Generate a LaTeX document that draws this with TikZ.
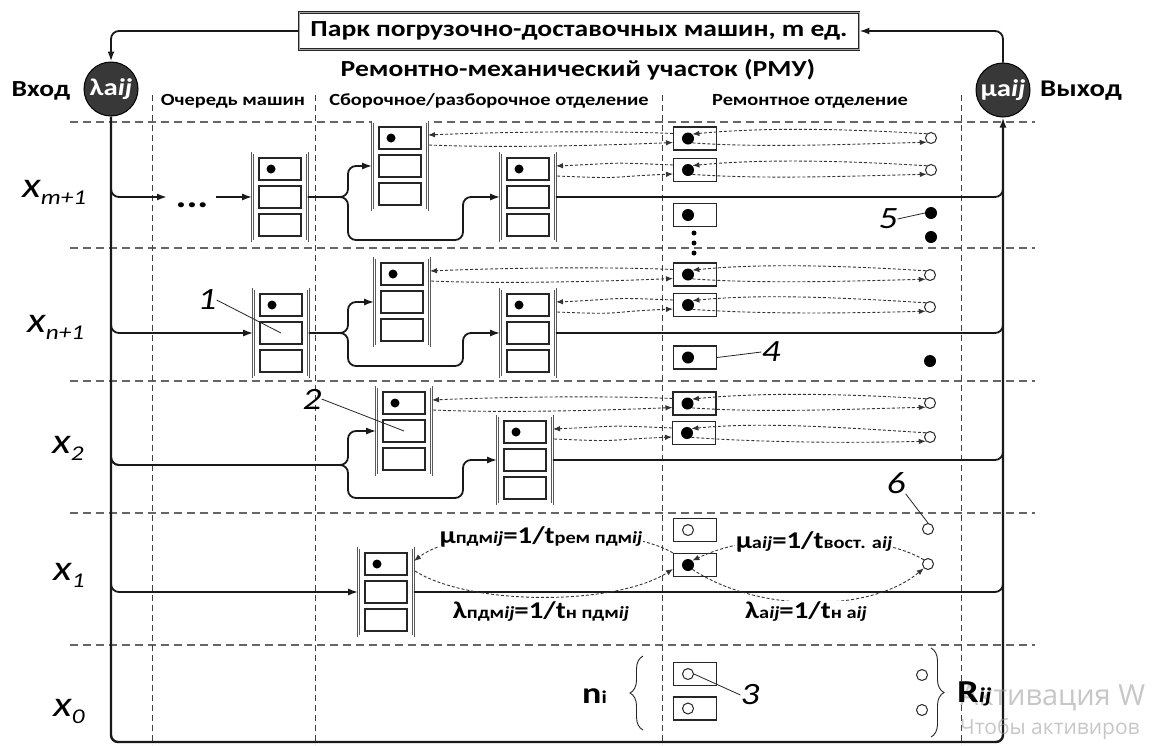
\documentclass[tikz,border=0pt]{standalone}
\usepackage{fontspec}
\setmainfont{Carlito}[FakeStretch=1.2]
\newfontfamily\wmfont{Open Sans}
\usetikzlibrary{arrows.meta,calc,decorations.pathreplacing}
\newcommand{\fs}[1]{\fontsize{#1}{#1}\selectfont}
\newcommand{\sbt}[1]{{\fs{17}#1}}
\newcommand{\machine}[3]{%
  \node[outerbox] (#1) at (#2,#3) {};
  \node[cell] (#1a) at (#2,{#3-28}) {};
  \node[cell] (#1b) at (#2,#3) {};
  \node[cell] (#1c) at (#2,{#3+28}) {};
  \node[mdot] (#1d) at ({#2-9},{#3-28}) {};
  \coordinate (#1u) at ({#2+28},{#3-31});
  \coordinate (#1l) at ({#2+29},{#3-21});
}
\newcommand{\rep}[4]{%
  \node[rbox] (#1) at (#2,#3) {};
  \node[#4] (#1d) at ({#2-7},#3) {};
  \coordinate (#1u) at ({#2-22},{#3-5});
  \coordinate (#1l) at ({#2-22},{#3+4});
}
\begin{document}
\begin{tikzpicture}[x=1pt,y=-1pt,
  hgrid/.style={draw=black!60, line width=1.3pt, dash pattern=on 8pt off 5pt},
  vgrid/.style={draw=black!75, line width=1pt, dash pattern=on 6pt off 4pt},
  frame/.style={draw=black!90, line width=2.4pt, rounded corners=7pt},
  flow/.style={draw=black!90, line width=1.8pt, rounded corners=8pt},
  arr/.style={-{Latex[length=10pt,width=7pt]}},
  dl/.style={draw=black!80, line width=0.9pt, dash pattern=on 3pt off 2pt},
  darr/.style={-{Latex[length=7pt,width=5.5pt]}},
  outerbox/.style={draw=black!65, line width=0.6pt, double=white, double distance=1.3pt, minimum width=55pt, minimum height=88pt, inner sep=0pt},
  cell/.style={draw=black!85, line width=1.3pt, minimum width=42pt, minimum height=22pt, inner sep=0pt},
  rbox/.style={draw=black!85, line width=1.3pt, minimum width=43pt, minimum height=23pt, inner sep=0pt},
  mdot/.style={circle, fill=black, minimum size=9pt, inner sep=0pt},
  rdot/.style={circle, fill=black, minimum size=12pt, inner sep=0pt},
  rcirc/.style={circle, draw=black!85, line width=1pt, fill=white, minimum size=11pt, inner sep=0pt},
  ocirc/.style={circle, draw=black!85, line width=1pt, fill=white, minimum size=11pt, inner sep=0pt},
  fdot/.style={circle, fill=black, minimum size=12pt, inner sep=0pt},
  gcirc/.style={circle, fill=black!78, draw=black, line width=1pt, minimum size=54pt, inner sep=0pt, text=white, font=\bfseries\fs{24}},
  titlebox/.style={draw=black!85, line width=0.8pt, double=black!35, double distance=0.8pt, minimum width=560pt, minimum height=37pt, inner sep=0pt, fill=white, font=\bfseries\fs{23}},
  hdr/.style={font=\bfseries\fs{17}, inner sep=1pt},
  big/.style={font=\bfseries\fs{23}, inner sep=1pt},
  xlab/.style={anchor=base west, font=\itshape\fs{36}, inner sep=0pt},
  num/.style={font=\itshape\fs{31}, inner sep=0pt},
  rate/.style={font=\bfseries\fs{24}, fill=white, inner sep=1pt},
  pointer/.style={draw=black!85, line width=0.8pt},
  brc/.style={draw=black!85, line width=0.9pt, decorate, decoration={brace, amplitude=13pt, aspect=0.5}},
  wm/.style={text=black!40, text opacity=0.55, anchor=west, inner sep=0pt}
]
\fill[white] (0,0) rectangle (1154,745);
\useasboundingbox (0,0) rectangle (1154,745);

% grid
\foreach \yy in {122,248,381,513,645} \draw[hgrid] (70,\yy) -- (1035,\yy);
\foreach \xx in {152,315,662,961} \draw[vgrid] (\xx,95) -- (\xx,745);

% titles
\node[titlebox] (park) at (579,31) {Парк погрузочно-доставочных машин, m ед.};
\node[big] (rmu) at (578,70) {Ремонтно-механический участок (РМУ)};
\node[hdr] (h1) at (233,101) {Очередь машин};
\node[hdr] (h2) at (489,101) {Сборочное/разборочное отделение};
\node[hdr] (h3) at (810,101) {Ремонтное отделение};
\node[big] (vin) at (41,91) {Вход};
\node[big, font=\bfseries\fs{24}] (vout) at (1081,91) {Выход};

\node[gcirc] (lam) at (111,89) {λa\textit{ij}};
\node[gcirc] (mu) at (1003,90) {μa\textit{ij}};

% frame
\coordinate (BL) at (111,742);
\coordinate (BR) at (1003,742);
\draw[frame, arr] (lam.south) -- (BL) -- (BR) -- (mu.south);
\draw[flow, arr] (park.west) -| (lam.north);
\draw[flow, arr] (mu.north) |- (park.east);

% row labels
\node[xlab] (xm) at (22,197) {x\raisebox{-7pt}{\fs{21}m+1}};
\node[xlab] (xn) at (27,332) {x\raisebox{-7pt}{\fs{21}n+1}};
\node[xlab] (x2) at (52,453) {x\raisebox{-7pt}{\fs{21}2}};
\node[xlab] (x1) at (53,580) {x\raisebox{-7pt}{\fs{21}1}};
\node[xlab] (x0) at (53,716) {x\raisebox{-7pt}{\fs{21}0}};

% ---------- row m+1
\machine{Q1}{280}{197}
\machine{A1}{400}{166}
\machine{B1}{528}{197}
\node[font=\bfseries\fs{34}, anchor=base, inner sep=0pt] (dots) at (192,207) {...};
\coordinate (L1) at (111,182);
\coordinate (D1a) at (167,197);
\coordinate (D1b) at (216,197);
\coordinate (S1) at (348,197);
\coordinate (K1) at (463,240);
\coordinate (E1) at (1003,182);
\draw[flow, arr] (L1) |- (D1a);
\draw[flow, arr] (D1b) -- (Q1.west);
\draw[flow, arr] (Q1.east) -- (S1) |- (A1.west);
\draw[flow, arr] (Q1.east) -- (S1) |- (K1) |- (B1.west);
\draw[flow] (B1.east) -| (E1);
\rep{Rm1}{695}{138.5}{rdot}
\rep{Rm2}{695}{170}{rdot}
\rep{Rm3}{695}{215}{rdot}
\foreach \yy in {233,243,253} \fill (694,\yy) circle (2.5pt);
\node[ocirc] (Cm1) at (931,138) {};
\node[ocirc] (Cm2) at (931,170) {};
\node[fdot] (Dm1) at (931,213) {};
\node[fdot] (Dm2) at (931,237) {};
\node[num] (n5) at (888,219) {5};
\draw[pointer] (n5.east) -- (Dm1.west);

% ---------- row n+1
\machine{Q2}{281}{333}
\machine{A2}{402}{302}
\machine{B2}{528}{333}
\coordinate (L2) at (111,318);
\coordinate (S2) at (348,333);
\coordinate (K2) at (463,366);
\coordinate (E2) at (1003,318);
\draw[flow, arr] (L2) |- (Q2.west);
\draw[flow, arr] (Q2.east) -- (S2) |- (A2.west);
\draw[flow, arr] (Q2.east) -- (S2) |- (K2) |- (B2.west);
\draw[flow] (B2.east) -| (E2);
\rep{Rn1}{695}{274.5}{rdot}
\rep{Rn2}{695}{305}{rdot}
\rep{Rn3}{695}{357.5}{rdot}
\node[ocirc] (Cn1) at (930,275) {};
\node[ocirc] (Cn2) at (930,307) {};
\node[fdot] (Dn) at (930,361) {};
\node[num] (n1) at (207,300) {1};
\draw[pointer] (n1.east) -- (Q2b.center);
\node[num] (n4) at (771,352) {4};
\draw[pointer] (n4.west) -- (Rn3.east);

% ---------- row 2
\machine{A3}{404}{431}
\machine{B3}{525}{460}
\coordinate (L3) at (111,450);
\coordinate (S3) at (348,465);
\coordinate (K3) at (463,498);
\coordinate (E3) at (1003,446);
\draw[flow, arr] (L3) |- (S3) |- (A3.west);
\draw[flow, arr] (L3) |- (S3) |- (K3) |- (B3.west);
\draw[flow] (B3.east) -| (E3);
\rep{Rt1}{694.5}{403.5}{rdot}
\rep{Rt2}{694}{433}{rdot}
\node[ocirc] (Ct1) at (930,403) {};
\node[ocirc] (Ct2) at (930,437) {};
\node[num] (n2) at (312,399) {2};
\draw[pointer] (n2.east) -- (A3b.center);

% ---------- row 1
\machine{A4}{386}{592}
\coordinate (L4) at (111,578);
\coordinate (E4) at (1003,578);
\draw[flow, arr] (L4) |- (A4.west);
\draw[flow] (A4.east) -| (E4);
\rep{Rx1}{695}{530}{rcirc}
\rep{Rx2}{695}{565}{rdot}
\node[ocirc] (Cx1) at (928,529) {};
\node[ocirc] (Cx2) at (928,564) {};
\node[num] (n6) at (896,483) {6};
\draw[pointer] (n6.south east) -- (Cx1.north);

% ---------- row 0
\rep{Rz1}{695}{674}{rcirc}
\rep{Rz2}{695}{708.5}{rcirc}
\node[ocirc] (Cz1) at (922,675) {};
\node[ocirc] (Cz2) at (922,710) {};
\node[num] (n3) at (750,695) {3};
\draw[pointer] (Rz1d.east) -- (n3.west);
\node[anchor=base west, font=\bfseries\fs{30}, inner sep=0pt] (ni) at (582,703) {n{\fs{18}i}};
\coordinate (BA) at (643,730);
\coordinate (BB) at (643,656);
\coordinate (BC) at (931,648);
\coordinate (BD) at (931,737);
\draw[brc] (BA) -- (BB);
\draw[brc] (BC) -- (BD);

% ---------- dotted flows rows m+1, n+1, 2
\foreach \M/\R/\C in {A1/Rm1/Cm1, B1/Rm2/Cm2, A2/Rn1/Cn1, B2/Rn2/Cn2, A3/Rt1/Ct1, B3/Rt2/Ct2}{
  \draw[dl, darr] (\R u) .. controls +(-70,-3) and +(70,-3) .. (\M u);
  \draw[dl, darr] (\M l) .. controls +(70,3) and +(-70,3) .. (\R l);
  \draw[dl, darr] (\C.north west) .. controls +(-80,-5) and +(70,-7) .. (\R d.north east);
  \draw[dl, darr] (\R d.south east) .. controls +(70,5) and +(-80,2) .. (\C.south west);
}

% ---------- row 1 rate loops
\draw[dl, darr] (Rx2.north west) .. controls (620,522) and (460,525) .. (A4u);
\draw[dl, darr] (A4l) .. controls (470,606) and (615,606) .. (Rx2l);
\draw[dl, darr] (Cx2.north west) .. controls (880,533) and (760,528) .. (Rx2d.north east);
\draw[dl, darr] (Rx2d.south east) .. controls (760,614) and (872,612) .. (Cx2.south west);
\node[rate] (r1) at (541,537) {μ\sbt{пдм\textit{ij}}=1/t\sbt{рем пдм\textit{ij}}};
\node[rate] (r2) at (541,612) {λ\sbt{пдм\textit{ij}}=1/t\sbt{н пдм\textit{ij}}};
\node[rate] (r3) at (814,542) {μ\sbt{a\textit{ij}}=1/t\sbt{вост. a\textit{ij}}};
\node[rate] (r4) at (806,612) {λ\sbt{a\textit{ij}}=1/t\sbt{н a\textit{ij}}};

% watermark (under R_ij)
\node[wm, font=\wmfont\fs{29}] (wm1) at (960,698) {Активация W};
\node[wm, font=\wmfont\fs{21}] (wm2) at (960,729) {Чтобы активиров};
\node[anchor=base west, font=\bfseries\fs{32}, inner sep=0pt] (rij) at (957,702) {R{\fs{21}\textit{ij}}};
\end{tikzpicture}
\end{document}
